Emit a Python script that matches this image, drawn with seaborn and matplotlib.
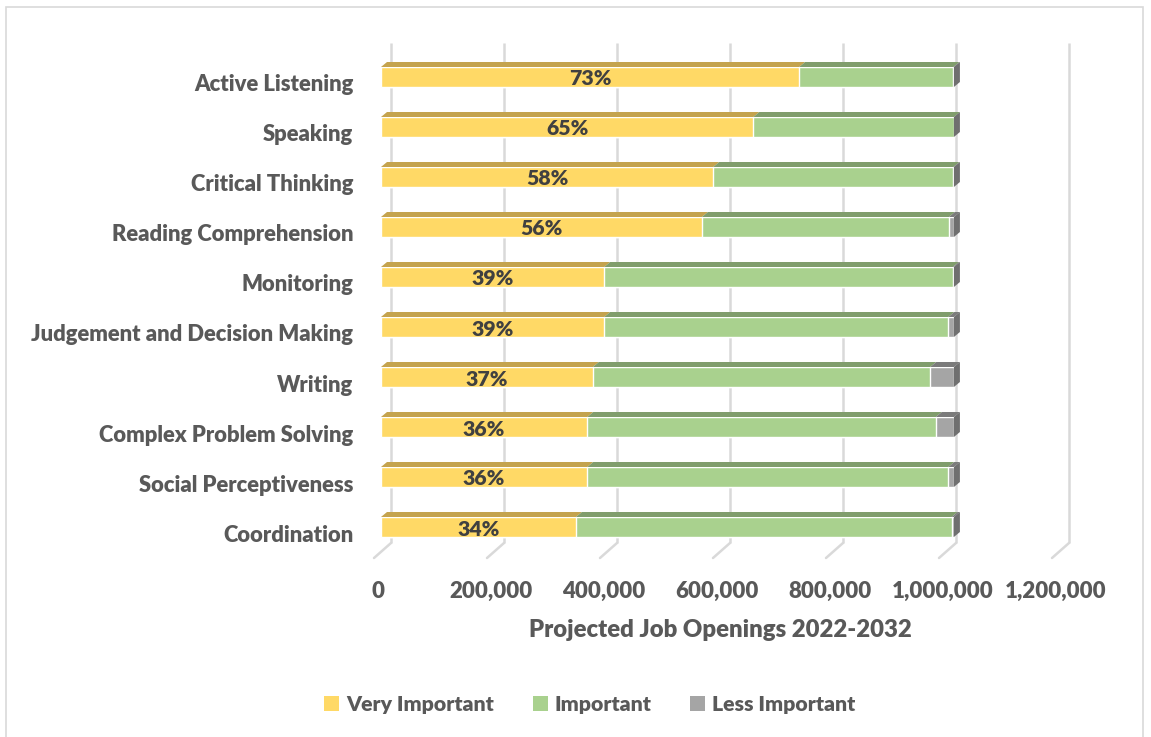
import numpy as np
import pandas as pd
import matplotlib
matplotlib.use("Agg")
import matplotlib.pyplot as plt
import matplotlib.transforms as mtransforms
from matplotlib.patches import Polygon, Rectangle, Patch
import seaborn as sns

# ---------------- data ----------------
categories = ["Active Listening", "Speaking", "Critical Thinking", "Reading Comprehension",
              "Monitoring", "Judgement and Decision Making", "Writing",
              "Complex Problem Solving", "Social Perceptiveness", "Coordination"]
very_important = [740000, 659000, 588000, 568000, 395000, 395000, 375000, 365000, 365000, 345000]
important = [273000, 355000, 425000, 437000, 617000, 609000, 597000, 617000, 639000, 665000]
less_important = [1000, 0, 1000, 9000, 2000, 10000, 42000, 32000, 10000, 4000]
pct_labels = ["73%", "65%", "58%", "56%", "39%", "39%", "37%", "36%", "36%", "34%"]
series_names = ["Very Important", "Important", "Less Important"]
x_ticks = [0, 200000, 400000, 600000, 800000, 1000000, 1200000]
x_title = "Projected Job Openings 2022-2032"

# ---------------- style ----------------
sns.set_style("white")
plt.rcParams["font.family"] = ["Lato", "DejaVu Sans"]
TXT = "#595959"
C_VI, C_I, C_LI = "#FFD966", "#A9D18E", "#A5A5A5"
T_VI, T_I, T_LI = "#C4A34E", "#809D6C", "#7B7B7B"
SIDE = "#6F6F6F"
GRID = "#D9D9D9"
FW = "heavy"

W, H = 1151, 737
fig = plt.figure(figsize=(W / 100, H / 100), dpi=100)
ax_l, ax_r, ax_t, ax_b = 381, 1059, 52, 552
ax = fig.add_axes([ax_l / W, (H - ax_b) / H, (ax_r - ax_l) / W, (ax_b - ax_t) / H])

df = pd.DataFrame({"cat": categories,
                   "vi": very_important, "imp": important, "li": less_important})
df["cum2"] = df["vi"] + df["imp"]
df["total"] = df["cum2"] + df["li"]

bar_h = 0.4
sns.barplot(data=df, x="total", y="cat", orient="h", color=C_LI, saturation=1,
            width=bar_h, ax=ax, zorder=2)
sns.barplot(data=df, x="cum2", y="cat", orient="h", color=C_I, saturation=1,
            width=bar_h, ax=ax, zorder=2)
sns.barplot(data=df, x="vi", y="cat", orient="h", color=C_VI, saturation=1,
            width=bar_h, ax=ax, zorder=2)

xmax = 1200000
ax.set_xlim(0, xmax)
ax.set_ylim(len(categories) - 0.5, -0.5)

# pixel -> data conversions (axes size fixed above)
px_x = xmax / (ax_r - ax_l)
px_y = len(categories) / (ax_b - ax_t)
dx, dy = 6 * px_x, 5 * px_y

# 3D top faces and side face
for i, r in df.iterrows():
    yt = i - bar_h / 2
    yb = i + bar_h / 2
    segs = [(0, r["vi"], T_VI), (r["vi"], r["cum2"], T_I), (r["cum2"], r["total"], T_LI)]
    for a, b, c in segs:
        if b > a:
            ax.add_patch(Polygon([(a, yt), (b, yt), (b + dx, yt - dy), (a + dx, yt - dy)],
                                 closed=True, facecolor=c, edgecolor="none", zorder=2.5,
                                 clip_on=False))
    T = r["total"]
    ax.add_patch(Polygon([(T, yt), (T, yb), (T + dx, yb - dy), (T + dx, yt - dy)],
                         closed=True, facecolor=SIDE, edgecolor="none", zorder=2.5,
                         clip_on=False))
    ax.text(r["vi"] / 2, i + 0.04, pct_labels[i], ha="center", va="center",
            fontsize=15.3, fontweight=FW, color="#404040", zorder=4)

# back-wall gridlines and floor lines
blend = mtransforms.blended_transform_factory(ax.transData, ax.transAxes)
back = mtransforms.offset_copy(blend, fig=fig, x=10, y=9, units="dots")
ax.vlines(x_ticks, 0, 1, transform=back, colors=GRID, linewidth=1.8, zorder=0, clip_on=False)
for t in x_ticks:
    ax.annotate("", xy=(t, 0), xycoords=back, xytext=(-17, -15), textcoords="offset pixels",
                arrowprops=dict(arrowstyle="-", color=GRID, lw=1.8, shrinkA=0, shrinkB=0),
                annotation_clip=False, zorder=0)

ax.set_xticks(x_ticks)
ax.set_xticklabels([f"{t:,}" for t in x_ticks])
ax.set_ylabel("")
ax.set_xlabel(x_title, fontsize=17.2, fontweight=FW, color=TXT, labelpad=12)
ax.tick_params(axis="x", length=0, pad=21, labelsize=16, labelcolor=TXT)
ax.tick_params(axis="y", length=0, pad=20, labelsize=15.8, labelcolor=TXT)
for lab in ax.get_xticklabels() + ax.get_yticklabels():
    lab.set_fontweight(FW)
shift_down = mtransforms.Affine2D().translate(0, -6)
for lab in ax.get_yticklabels():
    lab.set_transform(lab.get_transform() + shift_down)
shift_left = mtransforms.Affine2D().translate(-3, 0)
for lab in ax.get_xticklabels():
    lab.set_transform(lab.get_transform() + shift_left)
for s in ax.spines.values():
    s.set_visible(False)
ax.grid(False)
ax.set_facecolor("none")

handles = [Patch(facecolor=c, edgecolor="none") for c in (C_VI, C_I, C_LI)]
leg = fig.legend(handles, series_names, loc="center", bbox_to_anchor=(590 / W, 1 - 704 / H),
                 ncol=3, frameon=False, handlelength=0.7, handleheight=0.7,
                 handletextpad=0.35, columnspacing=1.8, fontsize=15.3)
for t in leg.get_texts():
    t.set_color(TXT)
    t.set_fontweight(FW)

# chart border
fig.patches.append(Rectangle((6 / W, -0.01), (1143 - 6) / W, 1 - 7 / H + 0.01,
                             transform=fig.transFigure, fill=False, edgecolor=GRID,
                             linewidth=1.2))

fig.savefig("out.png", dpi=100, facecolor="white")
